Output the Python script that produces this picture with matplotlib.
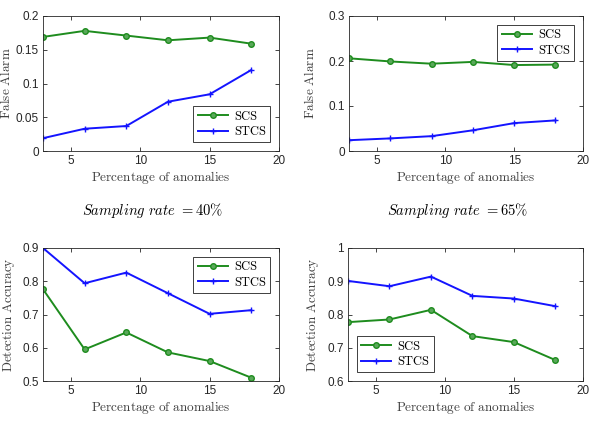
import matplotlib
matplotlib.use("Agg")
import matplotlib.pyplot as plt

plt.rcParams['mathtext.fontset'] = 'cm'

x = [3, 6, 9, 12, 15, 18]

fa40_scs = [0.169, 0.178, 0.171, 0.164, 0.168, 0.159]
fa40_stcs = [0.019, 0.033, 0.037, 0.073, 0.084, 0.120]
fa65_scs = [0.206, 0.199, 0.194, 0.198, 0.191, 0.192]
fa65_stcs = [0.024, 0.028, 0.033, 0.046, 0.062, 0.068]
da40_scs = [0.776, 0.595, 0.646, 0.586, 0.560, 0.510]
da40_stcs = [0.900, 0.794, 0.826, 0.764, 0.702, 0.713]
da65_scs = [0.777, 0.785, 0.814, 0.735, 0.717, 0.663]
da65_stcs = [0.901, 0.885, 0.914, 0.856, 0.848, 0.825]

xticks = [5, 10, 15, 20]
captions = [r'$\mathit{Sampling\ rate}\ {=}40\%$', r'$\mathit{Sampling\ rate}\ {=}65\%$']

W, H = 592, 426
fig = plt.figure(figsize=(W/100, H/100), dpi=100)

green = '#1e8c1e'
blue = '#1414ff'
tickc = '#262626'
labc = '#404040'

def make_ax(l, r, t, b):
    return fig.add_axes([l/W, 1-b/H, (r-l)/W, (b-t)/H])

panels = [
    (43, 279, 16, 151, fa40_scs, fa40_stcs, (0, 0.2), [0, 0.05, 0.1, 0.15, 0.2], ['0', '0.05', '0.1', '0.15', '0.2'], 'False Alarm', 'lower right', 13),
    (349, 583, 16, 151, fa65_scs, fa65_stcs, (0, 0.3), [0, 0.1, 0.2, 0.3], ['0', '0.1', '0.2', '0.3'], 'False Alarm', 'upper right', 317),
    (43, 279, 248, 381, da40_scs, da40_stcs, (0.5, 0.9), [0.5, 0.6, 0.7, 0.8, 0.9], ['0.5', '0.6', '0.7', '0.8', '0.9'], 'Detection Accuracy', 'upper right', 17),
    (348, 583, 248, 381, da65_scs, da65_stcs, (0.6, 1.0), [0.6, 0.7, 0.8, 0.9, 1.0], ['0.6', '0.7', '0.8', '0.9', '1'], 'Detection Accuracy', 'lower left', 321),
]

for (l, r, t, b, scs, stcs, ylim, yt, ytl, ylab, loc, ylx) in panels:
    ax = make_ax(l, r, t, b)
    ax.plot(x, scs, color=green, lw=1.4, marker='o', ms=4, mfc='#5aa85a', mec=green, mew=1.0, label='SCS')
    ax.plot(x, stcs, color=blue, lw=1.4, marker='+', ms=4, mew=1.0, label='STCS')
    ax.set_xlim(3, 20)
    ax.set_ylim(*ylim)
    ax.set_xticks(xticks)
    ax.set_xticklabels([str(v) for v in xticks], family='Liberation Sans', fontsize=8.5, color=tickc)
    ax.set_yticks(yt)
    ax.set_yticklabels(ytl, family='Liberation Sans', fontsize=8.5, color=tickc)
    ax.tick_params(direction='in', top=True, right=True, length=3, width=0.6, colors=tickc, pad=3)
    for s in ax.spines.values():
        s.set_color(tickc)
        s.set_linewidth(0.6)
    ax.set_xlabel(r'$\mathrm{Percentage\ of\ anomalies}$', fontsize=9.5, color=labc, labelpad=1)
    ax.set_ylabel(r'$\mathrm{%s}$' % ylab.replace(' ', r'\ '), fontsize=9.5, color=labc)
    ax.yaxis.set_label_coords((ylx - l) / (r - l), 0.5)
    leg = ax.legend(loc=loc, prop={'family': 'cmr10', 'size': 9}, fancybox=False, framealpha=1,
                    edgecolor='#202020', handlelength=2.4, borderpad=0.35, labelspacing=0.25,
                    handletextpad=0.5, borderaxespad=0.7)
    leg.get_frame().set_linewidth(0.6)

fig.text(153/W, 1-211/H, captions[0], ha='center', va='center', fontsize=10.5)
fig.text(458/W, 1-211/H, captions[1], ha='center', va='center', fontsize=10.5)

fig.savefig('out.png', dpi=100, facecolor='white')
